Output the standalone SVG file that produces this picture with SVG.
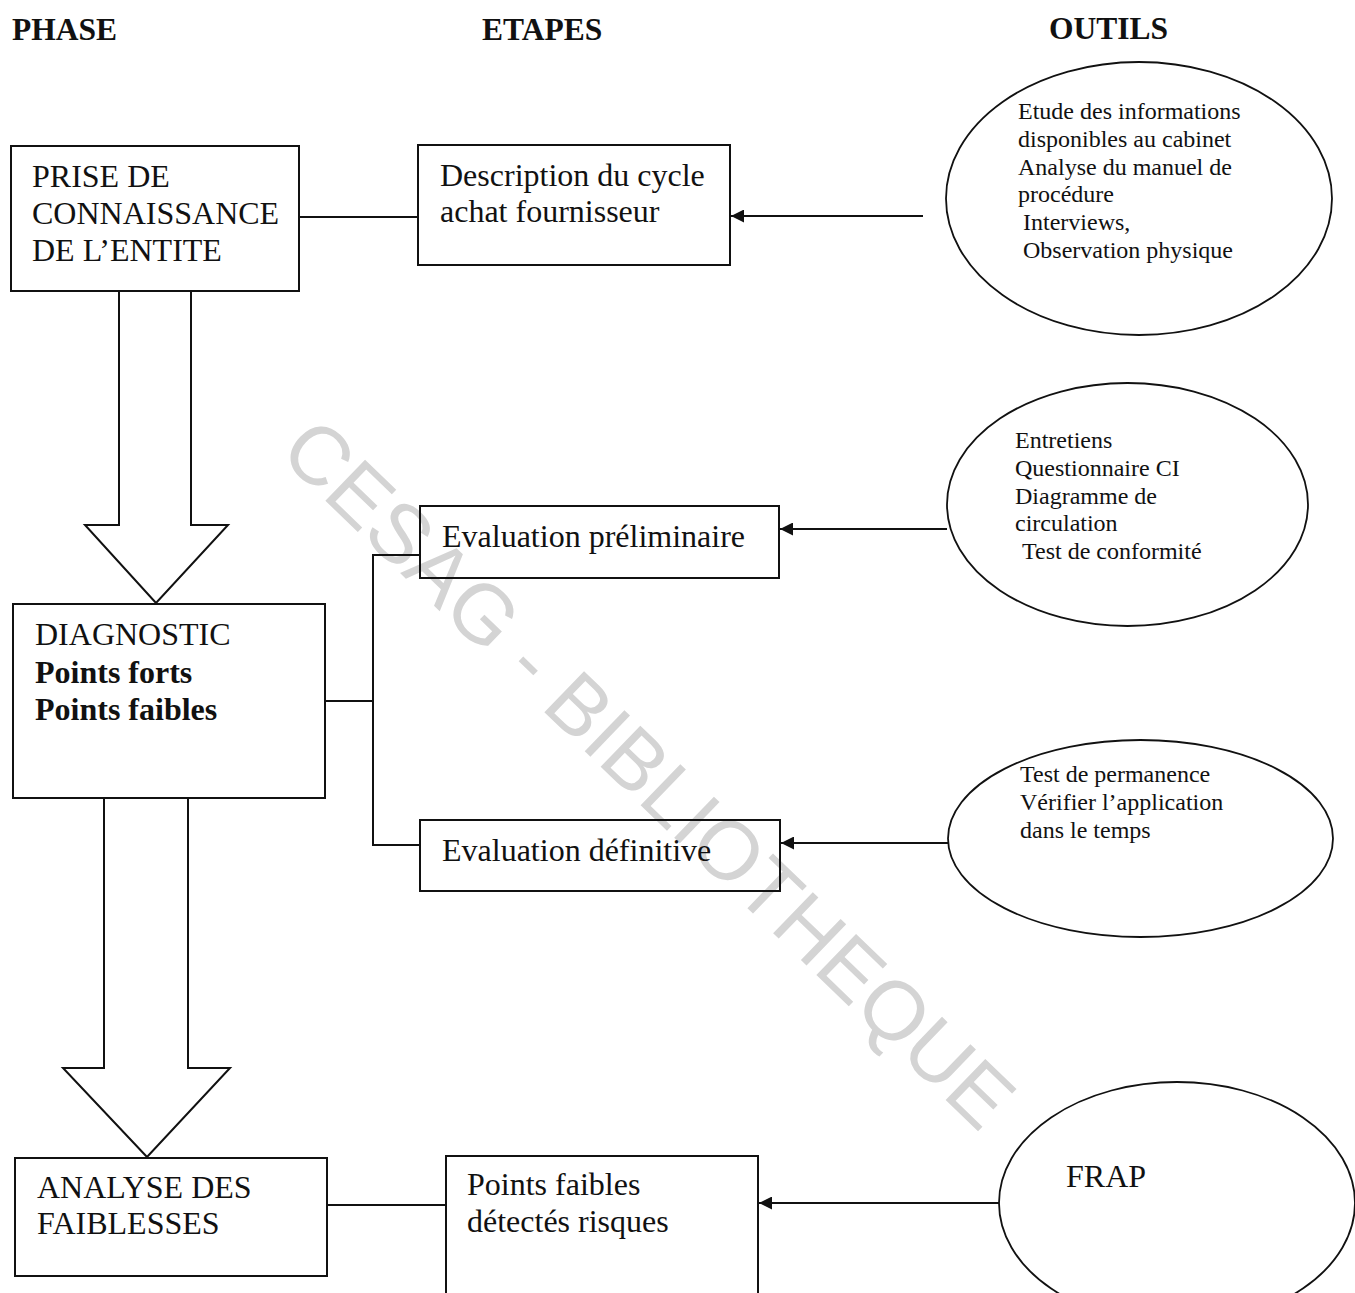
<svg xmlns="http://www.w3.org/2000/svg" width="1355" height="1293" viewBox="0 0 1355 1293">
  <style>
    .bg { fill: #ffffff; }
    .box { fill: none; stroke: #111; stroke-width: 2; }
    .oval { fill: none; stroke: #111; stroke-width: 1.8; }
    .big-arrow { fill: #ffffff; stroke: #111; stroke-width: 2; stroke-linejoin: miter; }
    .link { fill: none; stroke: #111; stroke-width: 2; }
    .head { font-family: "Liberation Serif", "Times New Roman", serif; font-size: 31.5px; font-weight: bold; fill: #111; }
    .lbl { font-family: "Liberation Serif", "Times New Roman", serif; font-size: 32px; fill: #111; }
    .lbl-b { font-weight: bold; }
    .tool { font-family: "Liberation Serif", "Times New Roman", serif; font-size: 24px; fill: #111; }
    .wm { font-family: "Liberation Sans", Arial, sans-serif; font-size: 83px; fill: #d4d4d4; }
  </style>
  <defs>
    <marker id="tip" viewBox="0 0 12 12" refX="12" refY="6" markerWidth="13" markerHeight="13" markerUnits="userSpaceOnUse" orient="auto">
      <path d="M0,0 L12,6 L0,12 z" fill="#111"/>
    </marker>
  </defs>

  <rect class="bg" x="0" y="0" width="1355" height="1293"/>

  <!-- library stamp across the page -->
  <text class="wm" transform="translate(629,794) rotate(44)" text-anchor="middle">CESAG - BIBLIOTHEQUE</text>

  <!-- column titles -->
  <g id="titles">
    <text class="head" x="12" y="40">PHASE</text>
    <text class="head" x="482" y="40">ETAPES</text>
    <text class="head" x="1049" y="39">OUTILS</text>
  </g>

  <!-- connectors -->
  <g id="connectors">
    <line class="link" x1="299" y1="217" x2="418" y2="217"/>
    <line class="link" x1="923" y1="216" x2="731" y2="216" marker-end="url(#tip)"/>
    <polyline class="link" points="325,701 373,701"/>
    <polyline class="link" points="420,555 373,555 373,845 420,845"/>
    <line class="link" x1="947" y1="529" x2="780" y2="529" marker-end="url(#tip)"/>
    <line class="link" x1="948" y1="843" x2="781" y2="843" marker-end="url(#tip)"/>
    <line class="link" x1="327" y1="1205" x2="446" y2="1205"/>
    <line class="link" x1="999" y1="1203" x2="759" y2="1203" marker-end="url(#tip)"/>
    <polygon class="big-arrow" points="119,291 191,291 191,525 228,525 156,603 85,525 119,525"/>
    <polygon class="big-arrow" points="104,798 188,798 188,1068 230,1068 147,1157 63,1068 104,1068"/>
  </g>

  <!-- phase: knowledge of the entity -->
  <g id="phase-prise">
    <rect class="box" x="11" y="146" width="288" height="145"/>
    <text class="lbl" x="32" y="187">PRISE DE</text>
    <text class="lbl" x="32" y="224">CONNAISSANCE</text>
    <text class="lbl" x="32" y="261">DE L’ENTITE</text>
  </g>

  <g id="etape-description">
    <rect class="box" x="418" y="145" width="312" height="120"/>
    <text class="lbl" x="440" y="186">Description du cycle</text>
    <text class="lbl" x="440" y="222">achat fournisseur</text>
  </g>

  <g id="outils-prise">
    <ellipse class="oval" cx="1139" cy="198.5" rx="193" ry="136.5"/>
    <text class="tool" x="1018" y="119">Etude des informations</text>
    <text class="tool" x="1018" y="147">disponibles au cabinet</text>
    <text class="tool" x="1018" y="175">Analyse du manuel de</text>
    <text class="tool" x="1018" y="202">procédure</text>
    <text class="tool" x="1023" y="230">Interviews,</text>
    <text class="tool" x="1023" y="258">Observation physique</text>
  </g>

  <!-- phase: diagnostic -->
  <g id="phase-diagnostic">
    <rect class="box" x="13" y="604" width="312" height="194"/>
    <text class="lbl" x="35" y="645">DIAGNOSTIC</text>
    <text class="lbl lbl-b" x="35" y="683">Points forts</text>
    <text class="lbl lbl-b" x="35" y="720">Points faibles</text>
  </g>

  <g id="etape-preliminaire">
    <rect class="box" x="420" y="506" width="359" height="72"/>
    <text class="lbl" x="442" y="547">Evaluation préliminaire</text>
  </g>

  <g id="outils-preliminaire">
    <ellipse class="oval" cx="1127.5" cy="504.5" rx="180.5" ry="121.5"/>
    <text class="tool" x="1015" y="448">Entretiens</text>
    <text class="tool" x="1015" y="476">Questionnaire CI</text>
    <text class="tool" x="1015" y="504">Diagramme de</text>
    <text class="tool" x="1015" y="531">circulation</text>
    <text class="tool" x="1022" y="559">Test de conformité</text>
  </g>

  <g id="etape-definitive">
    <rect class="box" x="420" y="820" width="360" height="71"/>
    <text class="lbl" x="442" y="861">Evaluation définitive</text>
  </g>

  <g id="outils-definitive">
    <ellipse class="oval" cx="1140.5" cy="838.5" rx="192.5" ry="98.5"/>
    <text class="tool" x="1020" y="782">Test de permanence</text>
    <text class="tool" x="1020" y="810">Vérifier l’application</text>
    <text class="tool" x="1020" y="838">dans le temps</text>
  </g>

  <!-- phase: analysis of weaknesses -->
  <g id="phase-analyse">
    <rect class="box" x="15" y="1158" width="312" height="118"/>
    <text class="lbl" x="37" y="1198">ANALYSE DES</text>
    <text class="lbl" x="37" y="1234">FAIBLESSES</text>
  </g>

  <g id="etape-points">
    <rect class="box" x="446" y="1156" width="312" height="150"/>
    <text class="lbl" x="467" y="1195">Points faibles</text>
    <text class="lbl" x="467" y="1232">détectés risques</text>
  </g>

  <g id="outils-frap">
    <ellipse class="oval" cx="1177" cy="1203" rx="178" ry="121"/>
    <text class="lbl" x="1066" y="1187">FRAP</text>
  </g>
</svg>
